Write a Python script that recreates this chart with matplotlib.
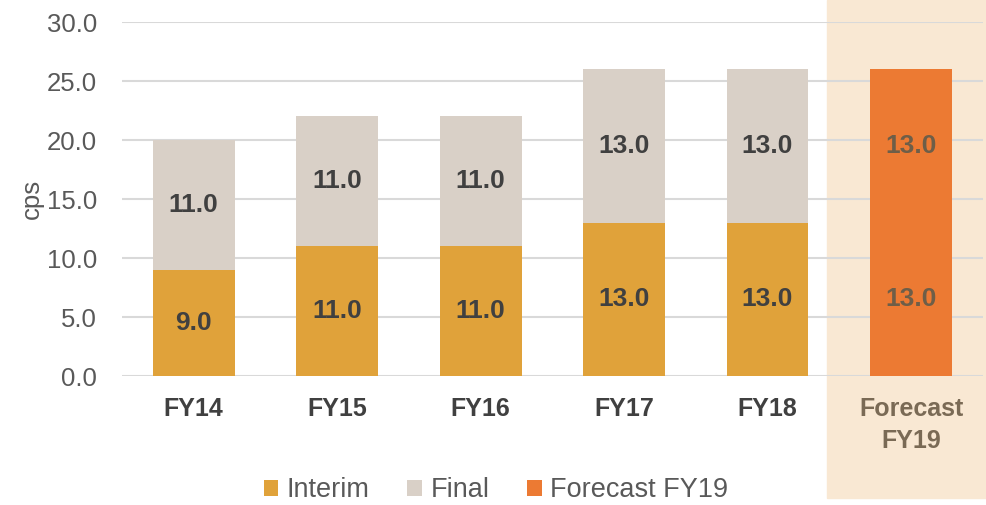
import matplotlib.pyplot as plt
from matplotlib.patches import Rectangle

plt.rcParams['font.family'] = ['Liberation Sans', 'DejaVu Sans']

years = ['FY14', 'FY15', 'FY16', 'FY17', 'FY18', 'Forecast\nFY19']
interim = [9.0, 11.0, 11.0, 13.0, 13.0]
final = [11.0, 11.0, 11.0, 13.0, 13.0]
forecast_interim = 13.0
forecast_final = 13.0

c_interim = '#E0A23A'
c_final = '#D9D0C7'
c_fc = '#EC7A33'
c_band = '#F9E8D3'

fig = plt.figure(figsize=(9.86, 5.05), dpi=100)
# shaded column behind the forecast year
fig.patches.append(Rectangle((827 / 986, 7 / 505), 1 - 827 / 986, 1 - 7 / 505,
                             transform=fig.transFigure, color=c_band, zorder=-5))
ax = fig.add_axes([0.1237, 0.2554, 0.873, 0.701])
ax.set_facecolor('none')

x = list(range(len(interim)))
w = 0.57
ax.bar(x, interim, w, color=c_interim, label='Interim', zorder=3)
ax.bar(x, final, w, bottom=interim, color=c_final, label='Final', zorder=3)
xf = len(interim)
ax.bar(xf, forecast_interim, w, color=c_fc, label='Forecast FY19', zorder=3)
ax.bar(xf, forecast_final, w, bottom=forecast_interim, color=c_fc, zorder=3)

lbl = dict(ha='center', va='center', fontsize=19, fontweight='bold', zorder=4)
for i in x:
    ax.text(i, interim[i] / 2, f'{interim[i]:.1f}', color='#404040', **lbl)
    ax.text(i, interim[i] + final[i] / 2, f'{final[i]:.1f}', color='#404040', **lbl)
ax.text(xf, forecast_interim / 2, f'{forecast_interim:.1f}', color='#6E5E48', **lbl)
ax.text(xf, forecast_interim + forecast_final / 2, f'{forecast_final:.1f}',
        color='#6E5E48', **lbl)

ax.set_xlim(-0.5, 5.5)
ax.set_ylim(0, 30)
ax.set_yticks(range(0, 31, 5))
ax.set_yticklabels([f'{v:.1f}' for v in range(0, 31, 5)])
ax.set_xticks(range(len(years)))
ax.set_xticklabels(years, fontweight='bold', fontsize=18, color='#404040',
                   linespacing=1.45)
ax.get_xticklabels()[-1].set_color('#7A6A55')
ax.tick_params(axis='y', labelsize=18.5, labelcolor='#595959', length=0, pad=18)
ax.tick_params(axis='x', length=0, pad=15)
ax.yaxis.grid(True, color='#D9D9D9', linewidth=1.5, zorder=1)
for s in ax.spines.values():
    s.set_visible(False)
ax.set_ylabel('cps', fontsize=18.5, color='#595959', labelpad=2)

fig.legend(loc='lower center', bbox_to_anchor=(0.503, -0.045), ncol=3, frameon=False,
           fontsize=19.5, labelcolor='#595959', handlelength=0.55, handleheight=0.55,
           handletextpad=0.3, columnspacing=1.4)

fig.savefig('out.png', dpi=100)
